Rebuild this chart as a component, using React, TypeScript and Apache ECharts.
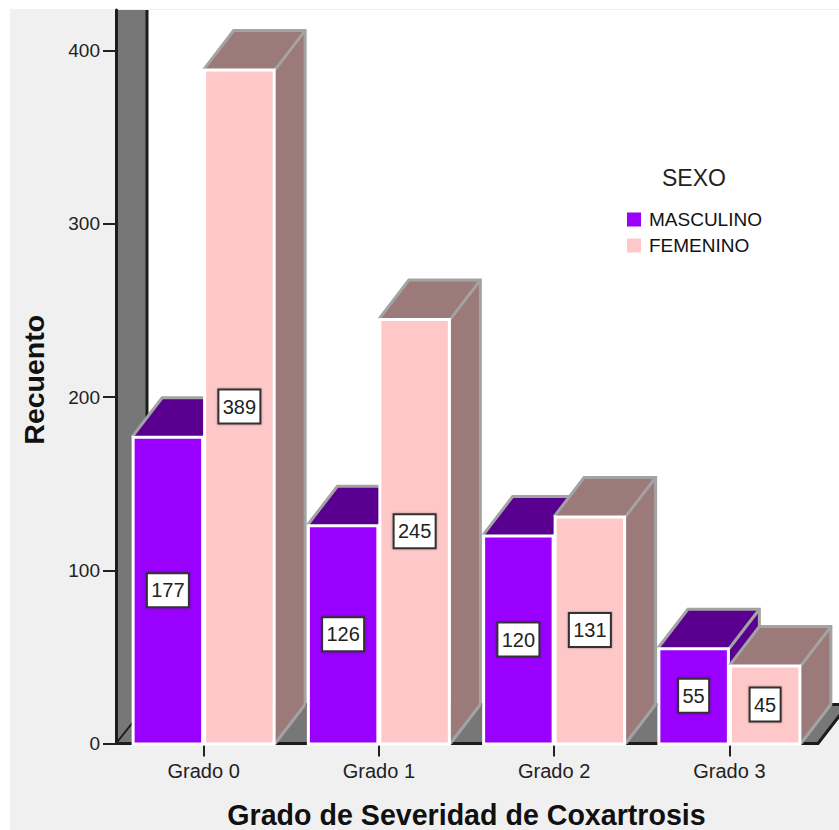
import React, { useEffect, useRef } from "react";
import * as echarts from "echarts";

const categories = ["Grado 0", "Grado 1", "Grado 2", "Grado 3"];
const masculino = [177, 126, 120, 55];
const femenino = [389, 245, 131, 45];
const yTicks = [0, 100, 200, 300, 400];

const DEPTH_X = 30;
const DEPTH_Y = 39;
const BAR_W = 71.5;
const FONT = "'Liberation Sans', Arial, sans-serif";
const EDGE = "#a3a3a3";
const DARK = "#1c1c1c";
const FLOOR = "#777777";

function barRenderer(side: number, front: string, shade: string) {
  return (_params: any, api: any) => {
    const idx = api.value(0);
    const val = api.value(1);
    const [cx, yTop] = api.coord([idx, val]);
    const [, yBase] = api.coord([idx, 0]);
    const x0 = side < 0 ? cx - BAR_W : cx;
    const x1 = x0 + BAR_W;
    const tl = [x0, yTop];
    const tr = [x1, yTop];
    const br = [x1, yBase];
    const btl = [x0 + DEPTH_X, yTop - DEPTH_Y];
    const btr = [x1 + DEPTH_X, yTop - DEPTH_Y];
    const bbr = [x1 + DEPTH_X, yBase - DEPTH_Y];
    return {
      type: "group",
      children: [
        { type: "polygon", shape: { points: [tr, btr, bbr, br] }, style: { fill: shade } },
        { type: "polygon", shape: { points: [tl, btl, btr, tr] }, style: { fill: shade } },
        { type: "polyline", shape: { points: [tl, btl, btr, bbr, br] }, style: { fill: "none", stroke: EDGE, lineWidth: 3 } },
        { type: "line", shape: { x1: tr[0], y1: tr[1], x2: btr[0], y2: btr[1] }, style: { stroke: EDGE, lineWidth: 3 } },
        {
          type: "rect",
          shape: { x: x0 + 1, y: yTop + 0.5, width: BAR_W - 2, height: yBase - yTop },
          style: { fill: front, stroke: "#ffffff", lineWidth: 3 },
        },
        {
          type: "rect",
          shape: { x: (x0 + x1) / 2 - (String(val).length > 2 ? 21 : 15.5), y: (yTop + yBase) / 2 - 17, width: String(val).length > 2 ? 42 : 31, height: 34 },
          style: { fill: "#ffffff", stroke: "#333333", lineWidth: 2, shadowColor: "rgba(0,0,0,0.35)", shadowBlur: 2 },
        },
        {
          type: "text",
          x: (x0 + x1) / 2,
          y: (yTop + yBase) / 2,
          style: { text: String(val), fill: "#222222", font: `20px ${FONT}`, align: "center", verticalAlign: "middle" },
        },
      ],
    };
  };
}

function wallRenderer(params: any) {
  const g = params.coordSys;
  const left = g.x;
  const top = g.y;
  const bottom = g.y + g.height;
  const right = g.x + g.width;
  const backX = left + DEPTH_X + 1;
  const backY = bottom - DEPTH_Y;
  const frontRight = right + 1;
  return {
    type: "group",
    children: [
      { type: "rect", shape: { x: left, y: top, width: 900, height: backY - top }, style: { fill: "#ffffff" } },
      { type: "polygon", shape: { points: [[left, top], [backX, top], [backX, backY], [left, bottom]] }, style: { fill: FLOOR } },
      { type: "polygon", shape: { points: [[left, bottom], [backX, backY], [frontRight + DEPTH_X, backY], [frontRight, bottom]] }, style: { fill: FLOOR } },
      { type: "line", shape: { x1: backX, y1: top, x2: backX, y2: backY }, style: { stroke: DARK, lineWidth: 3 } },
      { type: "line", shape: { x1: left, y1: bottom, x2: backX, y2: backY }, style: { stroke: DARK, lineWidth: 2 } },
      { type: "polyline", shape: { points: [[left, bottom], [frontRight, bottom], [frontRight + DEPTH_X, backY], [backX, backY]] }, style: { fill: "none", stroke: DARK, lineWidth: 3 } },
    ],
  };
}

export default function App() {
  const ref = useRef<HTMLDivElement>(null);
  useEffect(() => {
    const chart = echarts.init(ref.current!, undefined, { renderer: "svg" });
    chart.setOption({
      animation: false,
      grid: { left: 116, top: 10, width: 701, height: 733.5, containLabel: false, outerBoundsMode: "none" },
      title: {
        text: "SEXO",
        left: 662,
        top: 166,
        textStyle: { fontFamily: FONT, fontSize: 23, fontWeight: "normal", color: "#222222" },
        padding: 0,
      },
      legend: {
        orient: "vertical",
        left: 627,
        top: 209,
        padding: 0,
        itemWidth: 14,
        itemHeight: 14,
        itemGap: 5,
        icon: "rect",
        data: ["MASCULINO", "FEMENINO"],
        selectedMode: false,
        textStyle: { fontFamily: FONT, fontSize: 19, color: "#111111", padding: [0, 0, 0, 3], height: 21, lineHeight: 21 },
      },
      xAxis: {
        type: "category",
        data: categories,
        boundaryGap: true,
        axisLine: { show: false },
        axisTick: { show: true, alignWithLabel: true, length: 13, lineStyle: { color: "#222222", width: 2 } },
        axisLabel: { fontFamily: FONT, fontSize: 20, color: "#222222", margin: 17 },
        name: "Grado de Severidad de Coxartrosis",
        nameLocation: "middle",
        nameGap: 57,
        nameTextStyle: { fontFamily: FONT, fontSize: 28.6, fontWeight: "bold", color: "#111111" },
        z: 1,
      },
      yAxis: {
        type: "value",
        min: 0,
        max: 423.4,
        splitLine: { show: false },
        axisLine: { show: true, lineStyle: { color: DARK, width: 3 } },
        axisTick: { show: true, length: 13, customValues: yTicks, lineStyle: { color: "#222222", width: 2 } },
        axisLabel: { fontFamily: FONT, fontSize: 19, color: "#222222", margin: 16, customValues: yTicks },
        name: "Recuento",
        nameLocation: "middle",
        nameGap: 68,
        nameRotate: 90,
        nameTextStyle: { fontFamily: FONT, fontSize: 28.5, fontWeight: "bold", color: "#111111", padding: [0, 6, 0, 0] },
        z: 5,
      },
      series: [
        {
          type: "custom",
          name: "fondo",
          coordinateSystem: "cartesian2d",
          renderItem: wallRenderer,
          data: [[0, 0]],
          silent: true,
          z: 0,
        },
        {
          type: "custom",
          name: "MASCULINO",
          coordinateSystem: "cartesian2d",
          itemStyle: { color: "#9900ff" },
          renderItem: barRenderer(-1, "#9900ff", "#5a0090"),
          encode: { x: 0, y: 1 },
          data: masculino.map((v, i) => [i, v]),
          z: 2,
        },
        {
          type: "custom",
          name: "FEMENINO",
          coordinateSystem: "cartesian2d",
          itemStyle: { color: "#ffc8c8" },
          renderItem: barRenderer(1, "#ffc8c8", "#9c7a7a"),
          encode: { x: 0, y: 1 },
          data: femenino.map((v, i) => [i, v]),
          z: 3,
        },
      ],
    });
    return () => chart.dispose();
  }, []);
  return (
    <div style={{ position: "absolute", left: 0, top: 0, width: 839, height: 830, background: "#ffffff", overflow: "hidden" }}>
      <div style={{ position: "absolute", left: 10, top: 9, width: 829, height: 821, background: "#f0f0f0" }} />
      <div ref={ref} style={{ position: "absolute", left: 0, top: 0, width: 839, height: 830 }} />
    </div>
  );
}
